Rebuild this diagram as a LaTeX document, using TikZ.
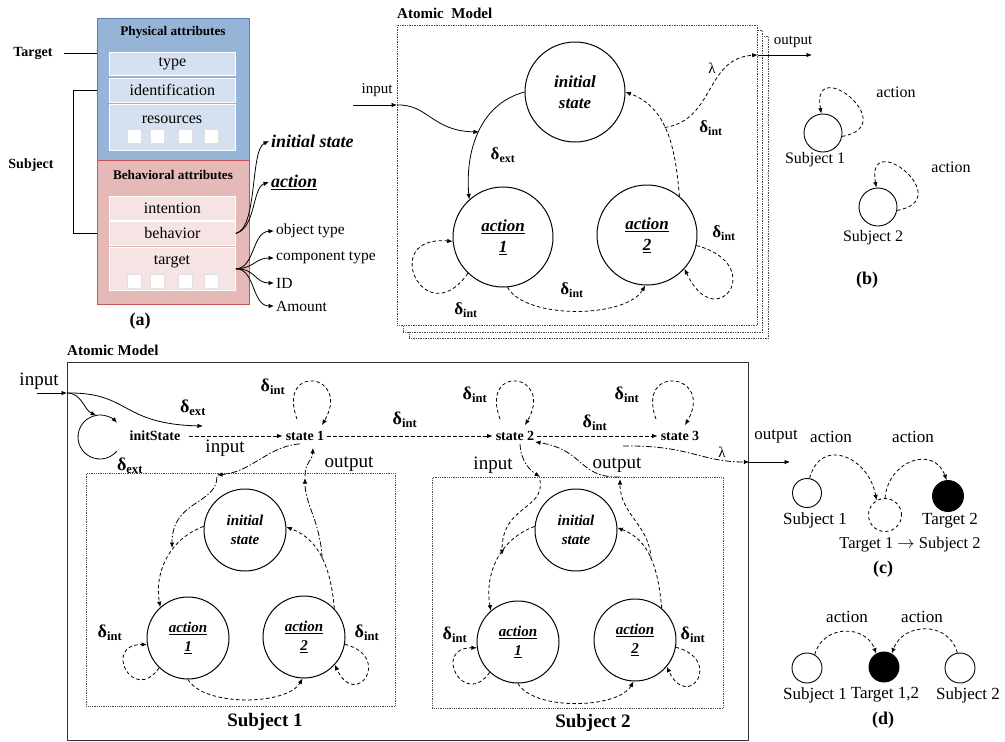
\documentclass[tikz,border=0pt]{standalone}
\usepackage{fontspec}
\setmainfont{Liberation Serif}
\usetikzlibrary{arrows.meta}
\newcommand{\fsz}[2]{\fontsize{#1}{#2}\selectfont}
\newcommand{\dint}{δ\textsubscript{int}}
\newcommand{\dext}{δ\textsubscript{ext}}
\definecolor{pblue}{HTML}{96B4D7}
\definecolor{pbluedk}{HTML}{5B80B8}
\definecolor{pbluein}{HTML}{D5E1F1}
\definecolor{pred}{HTML}{E6B9B9}
\definecolor{preddk}{HTML}{C65454}
\definecolor{predin}{HTML}{F6E3E3}
\tikzset{
  arr/.style={-{Latex[length=5.5pt,width=4.5pt]}},
  dsh/.style={dash pattern=on 3.5pt off 2.5pt},
  ddot/.style={dash pattern=on 6pt off 2pt on 1.5pt off 2pt},
  con/.style={line width=0.8pt},
  txt/.style={inner sep=0pt},
  tn/.style={inner sep=0pt, font=\fsz{16}{18}},
  cn/.style={inner sep=0pt, font=\fsz{17}{19}},
  bn/.style={inner sep=0pt, font=\fsz{18}{20}\bfseries},
  dl/.style={inner sep=0pt, font=\fsz{17}{19}\bfseries},
  dlb/.style={inner sep=0pt, font=\fsz{18}{20}\bfseries},
  bigc/.style={circle, draw, line width=1pt, minimum size=100pt, inner sep=0pt, align=center, font=\fsz{17}{21}\bfseries\itshape},
  midc/.style={circle, draw, line width=1pt, minimum size=82pt, inner sep=0pt, align=center, font=\fsz{15}{19}\bfseries\itshape},
  smc/.style={circle, draw, line width=0.9pt, inner sep=0pt},
  stn/.style={inner sep=3pt, font=\fsz{14}{16}\bfseries},
  inbox/.style={draw=white, line width=0.8pt, minimum width=126pt, anchor=north west, inner sep=0pt, font=\fsz{16}{18}},
  sq/.style={draw=black!12, fill=white, line width=0.6pt, minimum size=14pt, anchor=north west, inner sep=0pt},
  amod/.style={draw=black!70, densely dotted, fill=white, anchor=north west, inner sep=0pt, line width=0.7pt},
  sbox/.style={draw=black!70, densely dotted, line width=0.8pt, anchor=north west, inner sep=0pt},
  lab/.style={inner sep=2pt, anchor=west, font=\fsz{15.5}{17}},
}
\begin{document}
\begin{tikzpicture}[x=1pt,y=1pt]
\useasboundingbox (0,0) rectangle (1005,-742);
% ================= (a)
\node[draw=pbluedk, fill=pblue, line width=1pt, minimum width=152pt, minimum height=142pt, anchor=north west, inner sep=0pt] (phys) at (97,-18) {};
\node[draw=preddk, fill=pred, line width=1pt, minimum width=152pt, minimum height=144pt, anchor=north west, inner sep=0pt] (beh) at (97,-160) {};
\node[txt, font=\fsz{13.2}{15}\bfseries] (phyt) at (173,-32) {Physical attributes};
\node[txt, font=\fsz{13.2}{15}\bfseries] (beht) at (173,-175) {Behavioral attributes};
\node[inbox, fill=pbluein, minimum height=23pt] (ty) at (109,-52) {type};
\node[inbox, fill=pbluein, minimum height=24pt] (idn) at (109,-78) {identification};
\node[inbox, fill=pbluein, minimum height=46pt] (res) at (109,-104) {};
\node[tn] (rest) at (172,-120) {resources};
\foreach \i/\xx in {1/127,2/150,3/178,4/204} { \node[sq] (rs\i) at (\xx,-129) {}; }
\node[inbox, fill=predin, minimum height=24pt] (intn) at (109,-196) {intention};
\node[inbox, fill=predin, minimum height=24pt] (bhv) at (109,-221) {behavior};
\node[inbox, fill=predin, minimum height=43pt] (tgb) at (109,-247) {};
\node[tn] (tgbt) at (172,-262) {target};
\foreach \i/\xx in {1/127,2/150,3/178,4/204} { \node[sq] (ts\i) at (\xx,-274) {}; }
\node[txt, font=\fsz{14}{16}\bfseries] (tgl) at (33,-53) {Target};
\draw[line width=0.9pt] ([xshift=11pt]tgl.east) -- (tgl.east -| phys.west);
\node[txt, font=\fsz{14}{16}\bfseries] (sbl) at (31,-165) {Subject};
\draw[line width=0.9pt] (idn.west -| phys.west) -- ++(-24,0) |- (bhv.west -| beh.west);
\node[lab, font=\fsz{18}{20}\bfseries\itshape] (ist) at (269,-141) {initial state};
\node[lab, font=\fsz{18}{20}\bfseries\itshape] (act) at (269,-182) {\underline{action}};
\draw[con, arr] (bhv.east) .. controls (258,-228) and (250,-150) .. (ist.west);
\draw[con, arr] (bhv.east) .. controls (256,-228) and (252,-188) .. (act.west);
\node[lab] (ot) at (274,-231) {object type};
\node[lab] (ct) at (274,-258) {component type};
\node[lab] (idt) at (274,-283) {ID};
\node[lab] (amo) at (274,-306) {Amount};
\draw[con, arr] (tgb.east) .. controls (255,-268) and (252,-232) .. (ot.west);
\draw[con, arr] (tgb.east) .. controls (255,-268) and (255,-258) .. (ct.west);
\draw[con, arr] (tgb.east) .. controls (255,-268) and (255,-283) .. (idt.west);
\draw[con, arr] (tgb.east) .. controls (255,-268) and (252,-306) .. (amo.west);
\node[bn] (la) at (140,-321) {(a)};
% ================= top atomic model
\node[amod, minimum width=359pt, minimum height=302pt] (am3) at (409,-36) {};
\node[amod, minimum width=359pt, minimum height=302pt] (am2) at (403,-30) {};
\node[amod, minimum width=360pt, minimum height=300pt] (am1) at (397,-25) {};
\node[txt, anchor=west, font=\fsz{15}{17}\bfseries] (amtt) at (397,-13) {Atomic\ \ Model};
\node[bigc] (ini) at (575,-92) {initial\\state};
\node[bigc] (a1) at (503,-237) {\underline{action}\\\underline{1}};
\node[bigc] (a2) at (647,-235) {\underline{action}\\\underline{2}};
\coordinate (inL) at (353,-105);
\node[txt, font=\fsz{15}{17}] (inT) at (377,-90) {input};
\draw[con, arr] (inL) -- (inL -| am1.west);
\coordinate (ext1) at (479,-132);
\draw[con, arr] (inL -| am1.west) .. controls (428,-104) and (432,-131) .. (ext1);
\draw[con, arr] (ini.180) to[out=195, in=95] (a1.132);
\node[dl] (dx1) at (503,-155) {\dext};
\draw[con, dsh, arr] (a2.50) to[out=95, in=-20] coordinate[pos=0.55] (lam0) (ini.0);
\node[dl] (dx2) at (711,-128) {\dint};
\coordinate (outY) at (812,-55);
\draw[con, dsh, arr] (lam0) .. controls (715,-120) and (705,-58) .. (outY -| am1.east);
\node[txt, font=\fsz{15}{17}] (lamT) at (712,-68) {λ};
\draw[con, arr] (outY -| am1.east) -- (outY);
\node[txt, font=\fsz{15}{17}] (outT) at (793,-42) {output};
\draw[con, dsh, arr] (a1.226) .. controls +(235:75) and +(175:75) .. (a1.185);
\node[dl] (dx3) at (466,-310) {\dint};
\draw[con, dsh, arr] (a1.275) to[out=-60, in=-120, looseness=0.7] (a2.268);
\node[dl] (dx4) at (572,-290) {\dint};
\draw[con, dsh, arr] (a2.-12) .. controls +(-15:75) and +(-65:75) .. (a2.-42);
\node[dl] (dx5) at (724,-233) {\dint};
% ================= (b)
\node[smc, minimum size=38pt] (b1) at (823,-133) {};
\node[tn] (b1t) at (815,-160) {Subject 1};
\draw[con, dsh, arr] (b1.-10) .. controls +(10:62) and +(100:62) .. (b1.95);
\node[tn] (b1a) at (896,-92) {action};
\node[smc, minimum size=38pt] (b2) at (878,-207) {};
\node[tn] (b2t) at (873,-238) {Subject 2};
\draw[con, dsh, arr] (b2.-10) .. controls +(10:62) and +(100:62) .. (b2.95);
\node[tn] (b2a) at (951,-167) {action};
\node[bn] (lb) at (867,-280) {(b)};
% ================= bottom atomic model
\node[draw=black!80, line width=1.3pt, minimum width=681pt, minimum height=378pt, anchor=north west, inner sep=0pt] (big) at (67,-362) {};
\node[txt, anchor=west, font=\fsz{15}{17}\bfseries] (bamt) at (67,-350) {Atomic Model};
\node[sbox, minimum width=309pt, minimum height=233pt] (sb1) at (86,-473) {};
\node[sbox, minimum width=291pt, minimum height=231pt] (sb2) at (432,-477) {};
\node[txt, font=\fsz{19}{21}\bfseries] (sb1t) at (265,-722) {Subject 1};
\node[txt, font=\fsz{19}{21}\bfseries] (sb2t) at (593,-723) {Subject 2};
\node[txt, font=\fsz{19}{21}] (bin) at (39,-381) {input};
\coordinate (binL) at (37,-393);
\draw[con, arr] (binL) -- (binL -| big.west);
\node[stn] (iS) at (155,-436) {initState};
\coordinate (iSc) at (100,-437);
\draw[con, arr] ([shift={(-40:22)}]iSc) arc[start angle=-40, end angle=-320, radius=22];
\draw[con, arr] (binL -| big.west) .. controls (82,-393) and (84,-410) .. ([shift={(100:22)}]iSc);
\coordinate (dxe) at (203,-426);
\draw[con, arr] (binL -| big.west) .. controls (130,-392) and (120,-424) .. (dxe);
\node[dlb] (e1) at (193,-408) {\dext};
\node[dlb] (e2) at (130,-466) {\dext};
\node[stn] (s1) at (305,-436) {state 1};
\node[stn] (s2) at (515,-436) {state 2};
\node[stn] (s3) at (680,-436) {state 3};
\draw[con, dsh, arr] ([xshift=6pt]iS.east) -- (s1.west);
\draw[con, dsh, arr] (s1.east) -- (s2.west);
\draw[con, dsh, arr] (s2.east) -- (s3.west);
\draw[con, dsh, arr] ([shift={(-8,9)}]s1.north) .. controls +(110:60) and +(60:60) .. ([shift={(17,3)}]s1.north);
\draw[con, dsh, arr] ([shift={(-15,9)}]s2.north) .. controls +(110:60) and +(60:60) .. ([shift={(10,3)}]s2.north);
\draw[con, dsh, arr] ([shift={(-24,9)}]s3.north) .. controls +(110:60) and +(60:60) .. ([shift={(5,3)}]s3.north);
\node[dlb] (ls1) at (273,-387) {\dint};
\node[dlb] (ls12) at (405,-420) {\dint};
\node[dlb] (ls2) at (475,-395) {\dint};
\node[dlb] (ls23) at (595,-423) {\dint};
\node[dlb] (ls3) at (627,-395) {\dint};
\coordinate (lamY) at (790,-462);
\draw[con, ddot, arr] ([shift={(-57,-10)}]s3.center) .. controls (690,-445) and (700,-462) .. (lamY -| big.east);
\node[txt, font=\fsz{15}{17}] (lamB) at (722,-452) {λ};
\draw[con, arr] (lamY -| big.east) -- (lamY);
\node[cn] (outB) at (776,-437) {output};
% ---- subject 1
\node[midc] (c1i) at (245,-530) {initial\\state};
\node[midc] (c1a) at (188,-638) {\underline{action}\\\underline{1}};
\node[midc] (c1b) at (304,-637) {\underline{action}\\\underline{2}};
\node[txt, font=\fsz{19}{21}] (in1t) at (225,-448) {input};
\node[txt, font=\fsz{19}{21}] (out1t) at (349,-464) {output};
\coordinate (in1) at (217,-475);
\coordinate (in1e) at (172,-548);
\draw[con, ddot, arr] ([xshift=-5pt]s1.south) .. controls (268,-446) and (252,-472) .. (in1);
\draw[con, dsh, arr] (c1i.175) to[out=200, in=100] (c1a.132);
\draw[con, ddot, arr] ([yshift=-2pt]in1) .. controls (216,-505) and (172,-500) .. (in1e);
\draw[con, dsh, arr] (c1b.43) to[out=95, in=-20] coordinate[pos=0.5] (br1) (c1i.4);
\coordinate (out1) at (305,-478);
\draw[con, ddot, arr] (br1) .. controls (320,-520) and (305,-505) .. (out1);
\draw[con, ddot, arr] ([yshift=2pt]out1) .. controls (305,-462) and (312,-462) .. ([shift={(8,-4)}]s1.south);
\draw[con, dsh, arr] (c1a.226) .. controls +(235:45) and +(180:45) .. (c1a.189);
\draw[con, dsh, arr] (c1a.270) to[out=-60, in=-120, looseness=0.7] (c1b.268);
\draw[con, dsh, arr] (c1b.-10) .. controls +(-15:50) and +(-65:50) .. (c1b.-42);
\node[dlb] (d11) at (110,-633) {\dint};
\node[dlb] (d12) at (367,-633) {\dint};
% ---- subject 2
\node[midc] (c2i) at (576,-530) {initial\\state};
\node[midc] (c2a) at (518,-642) {\underline{action}\\\underline{1}};
\node[midc] (c2b) at (635,-640) {\underline{action}\\\underline{2}};
\node[txt, font=\fsz{19}{21}] (in2t) at (493,-465) {input};
\node[txt, font=\fsz{19}{21}] (out2t) at (617,-465) {output};
\coordinate (in2) at (540,-477);
\coordinate (in2e) at (502,-555);
\draw[con, ddot, arr] ([xshift=5pt]s2.south) .. controls (521,-462) and (530,-470) .. (in2);
\draw[con, dsh, arr] (c2i.175) to[out=200, in=100] (c2a.131);
\draw[con, dsh, arr] ([yshift=-3pt]in2) .. controls (545,-510) and (502,-505) .. (in2e);
\draw[con, dsh, arr] (c2b.50) to[out=95, in=-20] coordinate[pos=0.5] (br2) (c2i.3);
\coordinate (out2) at (620,-479);
\draw[con, dsh, arr] (br2) .. controls (650,-525) and (620,-515) .. (out2);
\draw[con, ddot, arr] ([yshift=2pt]out2) .. controls (578,-478) and (585,-450) .. ([shift={(20,2)}]s2.south);
\draw[con, dsh, arr] (c2a.227) .. controls +(235:45) and +(180:45) .. (c2a.188);
\draw[con, dsh, arr] (c2a.270) to[out=-60, in=-120, looseness=0.7] (c2b.268);
\draw[con, dsh, arr] (c2b.-10) .. controls +(-15:50) and +(-65:50) .. (c2b.-40);
\node[dlb] (d21) at (455,-635) {\dint};
\node[dlb] (d22) at (693,-635) {\dint};
% ================= (c)
\node[smc, minimum size=29pt] (cs1) at (807,-493) {};
\node[smc, dashed, minimum size=33pt] (ct1) at (885,-515) {};
\node[smc, fill=black, minimum size=31pt] (ct2) at (948,-496) {};
\node[cn] (cs1t) at (815,-520) {Subject 1};
\node[cn] (ct2t) at (950,-521) {Target 2};
\node[txt, font=\fsz{16.5}{18}] (ct1t) at (910,-545) {Target 1 $\rightarrow$ Subject 2};
\node[bn] (lc) at (883,-569) {(c)};
\node[cn] (ca1) at (831,-437) {action};
\node[cn] (ca2) at (913,-437) {action};
\draw[con, dsh, arr] (cs1.80) to[out=75, in=100, looseness=1.6] (ct1.120);
\draw[con, dsh, arr] (ct1.90) to[out=85, in=110, looseness=1.5] (ct2.95);
% ================= (d)
\node[smc, minimum size=30pt] (dd1) at (807,-668) {};
\node[smc, fill=black, minimum size=30pt] (ddt) at (884,-667) {};
\node[smc, minimum size=30pt] (dd2) at (960,-668) {};
\node[cn] (dd1t) at (815,-695) {Subject 1};
\node[cn] (ddtt) at (885,-695) {Target 1,2};
\node[cn] (dd2t) at (968,-695) {Subject 2};
\node[cn] (da1) at (847,-617) {action};
\node[cn] (da2) at (922,-617) {action};
\node[bn] (ld) at (883,-720) {(d)};
\draw[con, dsh, arr] (dd1.60) to[out=75, in=110, looseness=1.3] (ddt.120);
\draw[con, dsh, arr] (dd2.100) to[out=105, in=70, looseness=1.3] (ddt.60);
\end{tikzpicture}
\end{document}
